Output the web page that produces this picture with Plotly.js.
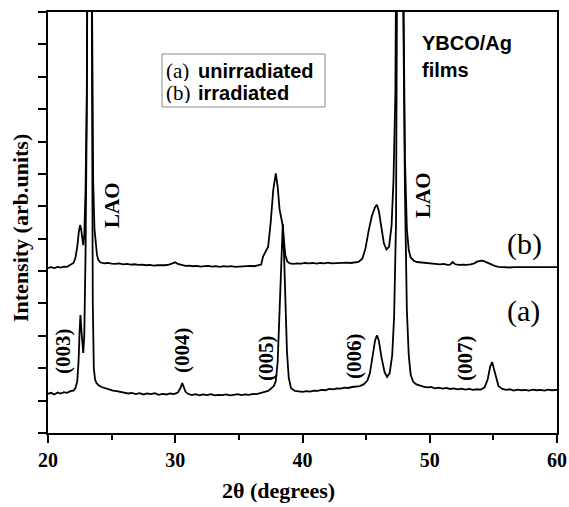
<!DOCTYPE html>
<html>
<head>
<meta charset="utf-8">
<script src="https://cdn.plot.ly/plotly-3.0.1.min.js"></script>
<style>html,body{margin:0;padding:0;background:#fff;}#chart{width:569px;height:507px;}</style>
</head>
<body>
<div id="chart"></div>
<script>
// ---- data: 2theta (degrees) and intensity (arb. units, offset-stacked) ----
const twoThetaA = [
  20.0,20.25,20.5,20.75,21.0,21.25,21.5,21.75,22.0,22.15,
  22.3,22.4,22.48,22.55,22.62,22.7,22.77,22.85,22.95,23.05,
  23.15,23.25,23.35,23.45,23.52,23.6,23.7,23.8,23.95,24.2,
  24.5,24.8,25.1,25.4,25.7,26.0,26.3,26.6,26.9,27.2,
  27.5,27.8,28.1,28.4,28.7,29.0,29.3,29.6,29.9,30.2,
  30.4,30.55,30.65,30.8,31.0,31.3,31.6,31.9,32.2,32.5,
  32.8,33.1,33.4,33.7,34.0,34.3,34.6,34.9,35.2,35.5,
  35.8,36.1,36.4,36.7,37.0,37.3,37.55,37.75,37.9,38.05,
  38.2,38.32,38.45,38.55,38.65,38.78,38.92,39.1,39.4,39.7,
  40.0,40.3,40.6,40.9,41.2,41.5,41.8,42.1,42.4,42.7,
  43.0,43.3,43.6,43.9,44.2,44.5,44.8,45.1,45.3,45.5,
  45.7,45.85,46.0,46.2,46.45,46.65,46.85,47.05,47.2,47.35,
  47.5,47.7,47.9,48.05,48.2,48.35,48.5,48.7,48.95,49.2,
  49.5,49.8,50.1,50.4,50.7,51.0,51.3,51.6,51.9,52.2,
  52.5,52.8,53.1,53.4,53.7,54.0,54.3,54.55,54.75,54.9,
  55.05,55.2,55.4,55.7,56.0,56.3,56.6,56.9,57.2,57.5,
  57.8,58.1,58.4,58.7,59.0,59.3,59.6,60.0
];
const intensityA = [
  1.21,1.24,1.19,1.25,1.22,1.26,1.24,1.29,1.31,1.38,
  1.6,2.2,3.1,3.64,3.2,2.6,2.47,3.0,5.5,10,
  16,25,40,12,4,2.0,1.65,1.55,1.48,1.42,
  1.38,1.34,1.31,1.29,1.27,1.25,1.22,1.24,1.20,1.23,
  1.19,1.22,1.20,1.23,1.18,1.21,1.19,1.22,1.20,1.25,
  1.38,1.54,1.45,1.28,1.21,1.17,1.20,1.16,1.19,1.17,
  1.20,1.16,1.18,1.17,1.19,1.16,1.18,1.20,1.17,1.19,
  1.18,1.21,1.20,1.23,1.25,1.30,1.38,1.45,1.6,2.2,
  3.8,5.3,6.45,5.5,4.0,2.5,1.7,1.38,1.30,1.28,
  1.27,1.29,1.28,1.31,1.30,1.33,1.32,1.36,1.35,1.38,
  1.37,1.40,1.39,1.42,1.44,1.45,1.50,1.62,1.85,2.35,
  2.85,3.02,2.85,2.35,1.88,1.73,1.85,2.4,3.6,6.5,
  14,40,14,7.5,3.8,2.4,1.8,1.58,1.50,1.46,
  1.43,1.41,1.42,1.38,1.40,1.37,1.39,1.36,1.38,1.35,
  1.37,1.34,1.36,1.33,1.35,1.34,1.40,1.65,2.05,2.19,
  1.95,1.70,1.45,1.36,1.33,1.35,1.31,1.34,1.32,1.33,
  1.31,1.34,1.32,1.33,1.31,1.34,1.32,1.33
];
const twoThetaB = [
  20.0,20.25,20.5,20.75,21.0,21.25,21.5,21.75,22.0,22.15,
  22.3,22.42,22.52,22.6,22.68,22.77,22.85,22.95,23.05,23.15,
  23.25,23.35,23.45,23.55,23.65,23.75,23.85,23.95,24.1,24.4,
  24.7,25.0,25.3,25.6,25.9,26.2,26.5,26.8,27.1,27.4,
  27.7,28.0,28.3,28.6,28.9,29.2,29.5,29.8,30.0,30.2,
  30.5,30.8,31.1,31.4,31.7,32.0,32.3,32.6,32.9,33.2,
  33.5,33.8,34.1,34.4,34.7,35.0,35.3,35.6,35.9,36.2,
  36.5,36.75,36.9,37.1,37.3,37.5,37.7,37.9,38.05,38.2,
  38.32,38.45,38.55,38.65,38.8,39.0,39.3,39.6,39.9,40.2,
  40.5,40.8,41.1,41.4,41.7,42.0,42.3,42.6,42.9,43.2,
  43.5,43.8,44.1,44.4,44.7,44.95,45.2,45.45,45.7,45.85,
  46.0,46.2,46.4,46.6,46.8,47.0,47.15,47.3,47.45,47.7,
  47.9,48.05,48.2,48.35,48.5,48.75,49.0,49.3,49.6,49.9,
  50.2,50.5,50.8,51.1,51.4,51.6,51.8,52.0,52.3,52.6,
  52.9,53.2,53.5,53.7,53.9,54.1,54.3,54.5,54.8,55.1,
  55.4,55.7,56.0,56.3,56.6,56.9,57.2,57.5,57.8,58.1,
  58.4,58.7,59.0,59.3,59.6,60.0
];
const intensityB = [
  5.10,5.12,5.09,5.13,5.11,5.14,5.13,5.18,5.25,5.40,
  5.75,6.2,6.42,6.3,6.0,5.8,6.1,7.5,10.5,16,
  25,40,14,7.8,6.3,5.75,5.5,5.35,5.27,5.24,
  5.25,5.23,5.22,5.24,5.21,5.22,5.20,5.21,5.19,5.20,
  5.18,5.19,5.17,5.18,5.17,5.18,5.20,5.25,5.27,5.22,
  5.18,5.16,5.17,5.15,5.16,5.14,5.15,5.16,5.14,5.15,
  5.13,5.15,5.14,5.15,5.13,5.14,5.15,5.14,5.16,5.15,
  5.17,5.20,5.45,5.58,5.75,6.5,7.5,8.02,7.6,6.9,
  6.6,6.4,5.9,5.5,5.3,5.24,5.22,5.24,5.23,5.25,
  5.24,5.25,5.23,5.25,5.24,5.26,5.24,5.25,5.26,5.25,
  5.26,5.25,5.27,5.28,5.38,5.7,6.25,6.7,6.97,7.05,
  6.85,6.3,5.85,5.67,5.75,6.4,7.8,10.5,15,40,
  15,8.5,6.3,5.65,5.42,5.32,5.28,5.27,5.25,5.24,
  5.22,5.23,5.21,5.22,5.19,5.20,5.28,5.21,5.19,5.20,
  5.19,5.21,5.24,5.29,5.31,5.32,5.30,5.26,5.20,5.16,
  5.13,5.12,5.13,5.11,5.12,5.12,5.11,5.12,5.13,5.11,
  5.12,5.11,5.12,5.11,5.12,5.12
];
const xTickVals = [20, 30, 40, 50, 60];
const xTickText = ["20", "30", "40", "50", "60"];
const peakLabels = ["(003)", "(004)", "(005)", "(006)", "(007)"];
const seriesNames = ["unirradiated", "irradiated"];
const seriesTags = ["(a)", "(b)"];

// ---- layout helpers (pixel -> paper) ----
const L = 48, R = 557, T = 12, B = 433;
const px = x => (x - L) / (R - L);
const py = y => (B - y) / (B - T);

const serifB = {family: "Liberation Serif, Times New Roman, serif", size: 21, color: "#000", weight: "bold"};
const serif = {family: "Liberation Serif, Times New Roman, serif", size: 21, color: "#000"};
const sansB = {family: "Liberation Sans, Arial, sans-serif", size: 20, color: "#000", weight: "bold"};

function ann(text, x, y, font, opts) {
  return Object.assign({text: text, xref: "paper", yref: "paper", x: px(x), y: py(y),
    showarrow: false, font: font, xanchor: "center", yanchor: "middle"}, opts || {});
}

const peakPos = [[63, 351], [182, 350], [266, 358], [354, 356], [465, 358]];
const annotations = [];
peakLabels.forEach((t, i) => annotations.push(ann(t, peakPos[i][0], peakPos[i][1], serifB, {textangle: -90})));
annotations.push(ann("LAO", 112, 205, serifB, {textangle: -90}));
annotations.push(ann("LAO", 423, 195, serifB, {textangle: -90}));
annotations.push(ann(seriesTags[1], 524, 244, Object.assign({}, serif, {size: 30})));
annotations.push(ann(seriesTags[0], 523, 311, Object.assign({}, serif, {size: 30})));
annotations.push(ann(seriesTags[0], 164, 70, serif, {xanchor: "left", height: 21}));
annotations.push(ann(seriesNames[0], 196, 70, sansB, {xanchor: "left", height: 21}));
annotations.push(ann(seriesTags[1], 164, 93, serif, {xanchor: "left", height: 21}));
annotations.push(ann(seriesNames[1], 196, 93, sansB, {xanchor: "left", height: 21}));
annotations.push(ann("YBCO/Ag", 420, 43, sansB, {xanchor: "left"}));
annotations.push(ann("films", 420, 70, sansB, {xanchor: "left"}));
annotations.push(ann("Intensity (arb.units)", 21, 228, Object.assign({}, serifB, {size: 22}), {textangle: -90}));
annotations.push(ann("2θ (degrees)", 278, 490, Object.assign({}, serifB, {size: 22})));

const lineStyle = {color: "#000", width: 1.8};
const traces = [
  {x: twoThetaA, y: intensityA, type: "scatter", mode: "lines", name: seriesTags[0] + " " + seriesNames[0], line: lineStyle},
  {x: twoThetaB, y: intensityB, type: "scatter", mode: "lines", name: seriesTags[1] + " " + seriesNames[1], line: lineStyle}
];

const layout = {
  width: 569, height: 507,
  margin: {l: L, r: 569 - R, t: T, b: 507 - B},
  paper_bgcolor: "#fff", plot_bgcolor: "#fff",
  showlegend: false,
  xaxis: {
    range: [20, 60], tickvals: xTickVals, ticktext: xTickText,
    ticks: "outside", ticklen: 8, tickwidth: 2, tickcolor: "#000",
    minor: {dtick: 5, tick0: 20, ticks: "outside", ticklen: 5, tickwidth: 2, tickcolor: "#000"},
    showline: true, linewidth: 2, linecolor: "#000", mirror: true,
    showgrid: false, zeroline: false,
    tickfont: {family: "Liberation Serif, Times New Roman, serif", size: 20, color: "#000", weight: "bold"}
  },
  yaxis: {
    range: [0, 13], dtick: 1, tick0: 0,
    ticks: "outside", ticklen: 8, tickwidth: 2, tickcolor: "#000",
    showticklabels: false,
    showline: true, linewidth: 2, linecolor: "#000", mirror: true,
    showgrid: false, zeroline: false
  },
  shapes: [{type: "rect", xref: "paper", yref: "paper", x0: px(162), x1: px(325), y0: py(107), y1: py(54),
    line: {color: "#8a8a8a", width: 1}, fillcolor: "rgba(0,0,0,0)"}],
  annotations: annotations
};

Plotly.newPlot("chart", traces, layout, {displayModeBar: false, staticPlot: true});
</script>
</body>
</html>
